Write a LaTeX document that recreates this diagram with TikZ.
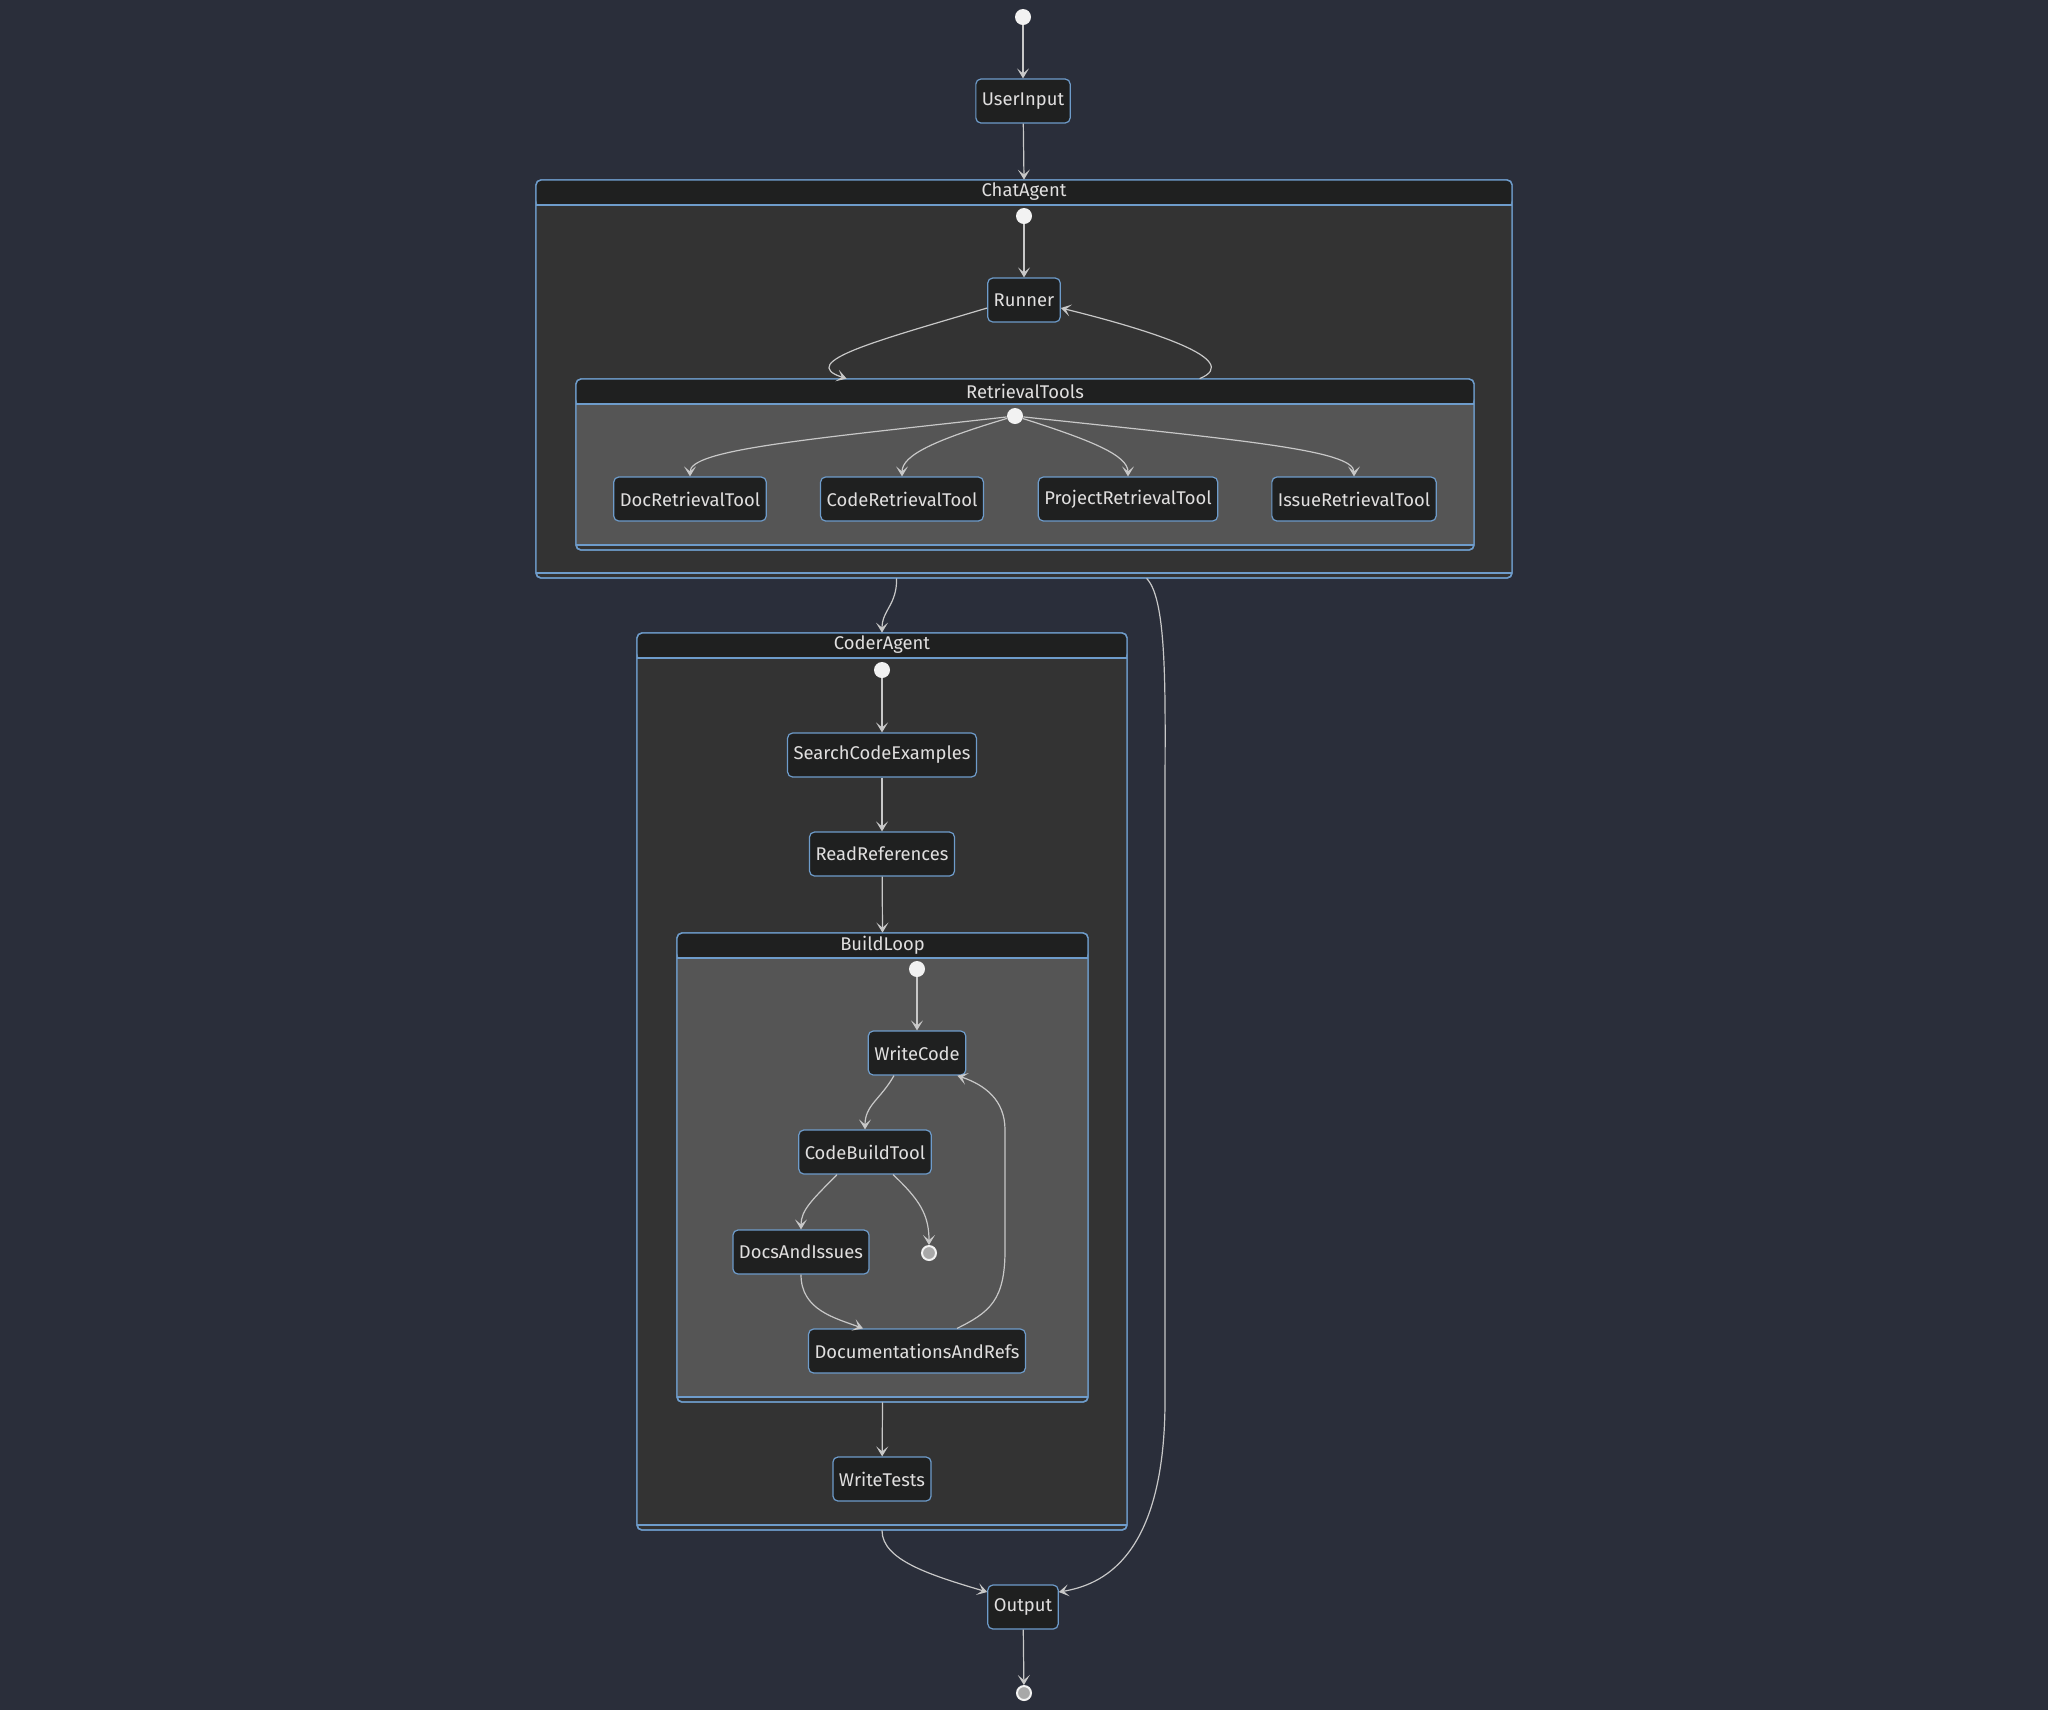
\documentclass[tikz,border=0pt]{standalone}
\usepackage{fontspec}
\setmainfont{Fira Sans}
\usepackage{tikz}
\usetikzlibrary{arrows.meta, positioning, fit}
\definecolor{bgc}{HTML}{2A2E3A}
\definecolor{midc}{HTML}{333333}
\definecolor{innerc}{HTML}{555555}
\definecolor{headc}{HTML}{1F2020}
\definecolor{bordc}{HTML}{6E9CCB}
\definecolor{txtc}{HTML}{E0DFDF}
\definecolor{edgec}{HTML}{C8C8C8}
\definecolor{dotc}{HTML}{F2F2F2}
\definecolor{endc}{HTML}{A8A8A8}

\begin{document}
\begin{tikzpicture}[
  x=0.5pt, y=-0.5pt,
  state/.style={draw=bordc, fill=headc, rounded corners=2.5pt, text=txtc, line width=0.6pt,
    minimum height=22pt, inner xsep=3pt, font=\fontsize{9.2}{11}\selectfont},
  startst/.style={circle, fill=dotc, minimum size=8pt, inner sep=0pt},
  endst/.style={circle, draw=dotc, fill=endc, line width=1pt, minimum size=7pt, inner sep=0pt},
  trans/.style={draw=edgec, line width=0.6pt, -{Stealth[length=5pt, width=6pt, inset=2.5pt]}},
  box/.style={draw=bordc, line width=0.7pt, rounded corners=2.5pt},
  title/.style={text=txtc, font=\fontsize{9.2}{11}\selectfont}
]
  \fill[bgc] (0,0) rectangle (2048,1710);

  % composite states
  \foreach \nm/\lbl/\xa/\ya/\xb/\yb/\bc in {
      chat/ChatAgent/536/180/1512/578/midc,
      retrieval/RetrievalTools/576/379/1474/550/innerc,
      coder/CoderAgent/637/633/1127/1530/midc,
      build/BuildLoop/677/933/1088/1402/innerc} {
    \draw[box, fill=midc] (\xa,\ya) rectangle (\xb,\yb);
    \fill[\bc] (\xa,\ya+25) rectangle (\xb,\yb-5);
    \fill[headc, rounded corners=2.5pt] (\xa,\ya) rectangle (\xb,\ya+25);
    \draw[bordc, line width=0.7pt] (\xa,\ya+25) -- (\xb,\ya+25) (\xa,\yb-5) -- (\xb,\yb-5);
    \draw[box] (\xa,\ya) rectangle (\xb,\yb);
    \node[title] at ({(\xa+\xb)/2},\ya+12) {\lbl};
    \coordinate (\nm-nw) at (\xa,\ya);
    \coordinate (\nm-se) at (\xb,\yb);
    \node[fit=(\nm-nw)(\nm-se), inner sep=0pt] (\nm) {};
  }

  % states
  \node[startst] (s0) at (1023,17) {};
  \node[state] (userinput) at (1023,101) {UserInput};
  \node[startst] (chatdot) at (1024,216) {};
  \node[state] (runner) at (1024,300) {Runner};
  \node[startst] (retrdot) at (1015,416) {};
  \node[state] (docret) at (690,499) {DocRetrievalTool};
  \node[state] (coderet) at (902,499) {CodeRetrievalTool};
  \node[state] (projret) at (1128,499) {ProjectRetrievalTool};
  \node[state] (issueret) at (1354,499) {IssueRetrievalTool};
  \node[startst] (coderdot) at (882,670) {};
  \node[state] (search) at (882,755) {SearchCodeExamples};
  \node[state] (readrefs) at (882,854) {ReadReferences};
  \node[startst] (builddot) at (917,969) {};
  \node[state] (writecode) at (917,1053) {WriteCode};
  \node[state] (codebuild) at (865,1152) {CodeBuildTool};
  \node[state] (docsissues) at (801,1252) {DocsAndIssues};
  \node[endst] (buildend) at (929,1253) {};
  \node[state] (docrefs) at (917,1351) {DocumentationsAndRefs};
  \node[state] (writetests) at (882,1479) {WriteTests};
  \node[state] (output) at (1023,1607) {Output};
  \node[endst] (end0) at (1024,1693) {};

  % transitions
  \draw[trans] (s0) -- (userinput);
  \draw[trans] (userinput) -- (chat.north);
  \draw[trans] (chatdot) -- (runner);
  \draw[trans] ([yshift=-4pt]runner.west) .. controls (880,340) and (795,362) .. ([xshift=135.5pt]retrieval.north west);
  \draw[trans] ([xshift=312pt]retrieval.north west) .. controls (1245,360) and (1150,330) .. ([yshift=-4pt]runner.east);
  \draw[trans] (retrdot) .. controls (800,440) and (690,450) .. (docret.north);
  \draw[trans] (retrdot) .. controls (935,440) and (902,455) .. (coderet.north);
  \draw[trans] (retrdot) .. controls (1090,440) and (1128,455) .. (projret.north);
  \draw[trans] (retrdot) .. controls (1240,440) and (1354,450) .. (issueret.north);
  \draw[trans] ([xshift=180.5pt]chat.south west) .. controls (897,605) and (882,610) .. (coder.north);
  \draw[trans] ([xshift=305.5pt]chat.south west) .. controls (1168,600) and (1165,700) .. (1165,800)
    -- (1165,1400) .. controls (1165,1560) and (1100,1585) .. ([yshift=7.5pt]output.east);
  \draw[trans] (coderdot) -- (search);
  \draw[trans] (search) -- (readrefs);
  \draw[trans] (readrefs) -- (build.north);
  \draw[trans] (builddot) -- (writecode);
  \draw[trans] ([xshift=-11.5pt]writecode.south) .. controls (880,1100) and (865,1105) .. (codebuild.north);
  \draw[trans] ([xshift=-14pt]codebuild.south) .. controls (812,1200) and (801,1210) .. (docsissues.north);
  \draw[trans] ([xshift=14pt]codebuild.south) .. controls (920,1200) and (929,1215) .. (buildend.north);
  \draw[trans] (docsissues.south) .. controls (801,1310) and (835,1318) .. ([xshift=-27pt]docrefs.north);
  \draw[trans] ([xshift=20pt]docrefs.north) .. controls (990,1312) and (1005,1300) .. (1005,1250)
    -- (1005,1130) .. controls (1005,1100) and (985,1085) .. ([xshift=-4.5pt]writecode.south east);
  \draw[trans] (build.south) -- (writetests);
  \draw[trans] (coder.south) .. controls (882,1560) and (930,1575) .. ([yshift=7.5pt]output.west);
  \draw[trans] (output) -- (end0);
\end{tikzpicture}
\end{document}
